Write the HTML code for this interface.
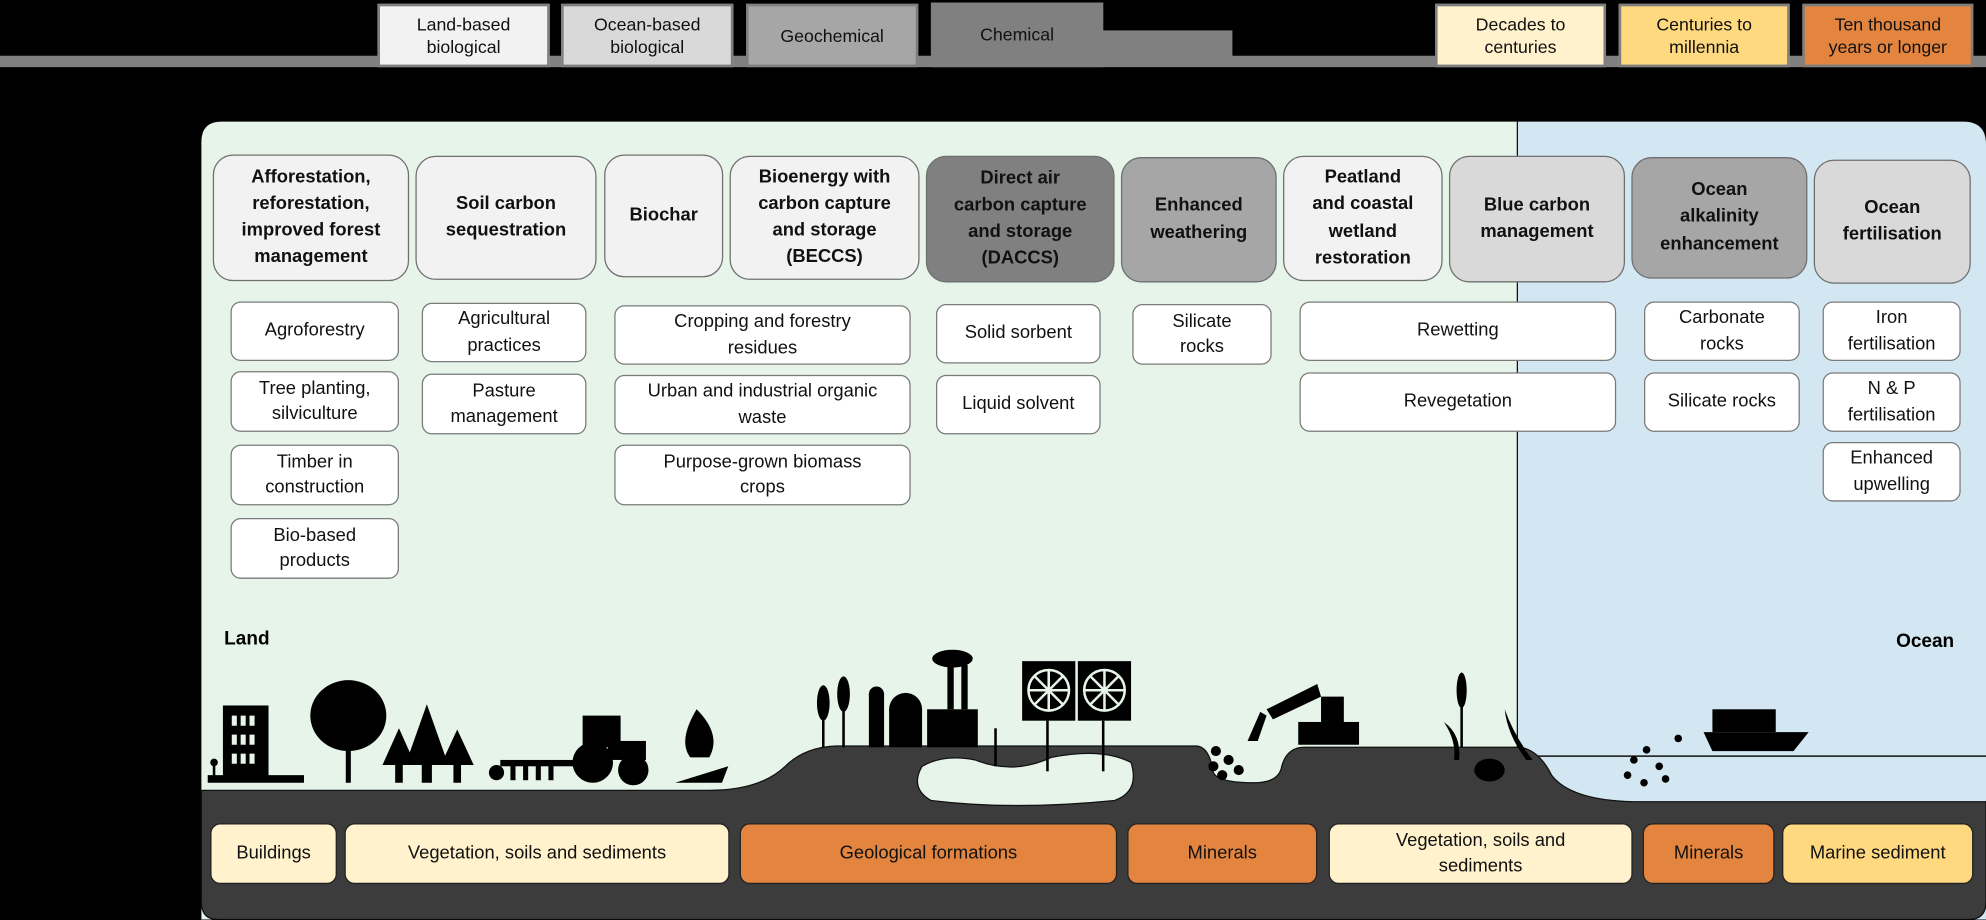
<!DOCTYPE html>
<html><head><meta charset="utf-8"><style>
html,body{margin:0;padding:0;background:#000;width:1986px;height:919px;overflow:hidden}
#w{position:absolute;left:0;top:0;width:1568px;height:726px;transform:scale(1.26658);transform-origin:0 0;font-family:"Liberation Sans",sans-serif;}
.a{position:absolute;box-sizing:border-box;display:flex;align-items:center;justify-content:center;text-align:center;color:#111;line-height:1.3}
.lg{font-size:14px;border:2px solid #7f7f7f}
.m{font-size:14.5px;font-weight:bold;border:1.5px solid #6f6f6f;border-radius:16px;line-height:1.45}
.s{font-size:14.5px;background:#fff;border:1.5px solid #7a7a7a;border-radius:8px;line-height:1.4}
.b{font-size:14.5px;border:1.5px solid #222;border-radius:8px;line-height:1.4}
</style></head><body><div id="w">
<div style="position:absolute;left:0;top:44px;width:1568px;height:9px;background:#808080"></div>
<div style="position:absolute;left:860px;top:24px;width:113px;height:22px;background:#808080"></div>
<div class="a lg" style="left:298px;top:3px;width:136px;height:50px;background:#f2f2f2">Land-based<br>biological</div>
<div class="a lg" style="left:443px;top:3px;width:136px;height:50px;background:#d9d9d9">Ocean-based<br>biological</div>
<div class="a lg" style="left:589px;top:3px;width:136px;height:50px;background:#a6a6a6">Geochemical</div>
<div class="a lg" style="left:735px;top:2px;width:136px;height:51px;background:#808080;border-color:#808080">Chemical</div>
<div class="a lg" style="left:1133px;top:3px;width:135px;height:50px;background:#fff2cc">Decades to<br>centuries</div>
<div class="a lg" style="left:1278px;top:3px;width:135px;height:50px;background:#ffd97f">Centuries to<br>millennia</div>
<div class="a lg" style="left:1423px;top:3px;width:135px;height:50px;background:#e3853f">Ten thousand<br>years or longer</div>

<svg style="position:absolute;left:0;top:0" width="1568" height="726">
<path d="M159,112 Q159,96 175,96 L1198,96 L1198,726 L159,726Z" fill="#e6f4e9"/>
<path d="M1198,96 L1550,96 Q1568,96 1568,114 L1568,726 L1198,726Z" fill="#d2e7f1"/>
<line x1="1198" y1="96" x2="1198" y2="600" stroke="#111" stroke-width="1"/>
<line x1="1205" y1="597" x2="1568" y2="597" stroke="#111" stroke-width="1.2"/>
<path d="M159,624 L560,624 Q600,624 620,605 Q635,590 660,589 L945,589 Q955,590 958,610 Q962,618 990,618 Q1010,618 1012,605 Q1016,590 1030,590 L1200,590 Q1215,592 1225,612 Q1240,632 1290,633 L1568,633 L1568,712 Q1568,726 1554,726 L172,726 Q159,726 159,712Z" fill="#3c3c3c" stroke="#111" stroke-width="1"/>
<path d="M728,605 Q745,595 770,600 Q800,612 830,598 Q870,590 893,602 Q900,625 880,632 Q800,640 735,632 Q718,622 728,605Z" fill="#e6f4e9" stroke="#111"/>
<g fill="#000">
<rect x="164" y="612" width="76" height="6"/>
<rect x="176" y="557" width="36" height="57"/>
<g fill="#e6f4e9"><rect x="183" y="565" width="4" height="8"/><rect x="190" y="565" width="4" height="8"/><rect x="197" y="565" width="4" height="8"/><rect x="183" y="580" width="4" height="8"/><rect x="190" y="580" width="4" height="8"/><rect x="197" y="580" width="4" height="8"/><rect x="183" y="595" width="4" height="8"/><rect x="190" y="595" width="4" height="8"/><rect x="197" y="595" width="4" height="8"/></g>
<rect x="168" y="603" width="2" height="10"/><circle cx="169" cy="602" r="3"/>
<rect x="273" y="580" width="4" height="38"/><ellipse cx="275" cy="565" rx="30" ry="28"/>
<polygon points="312,618 318,618 318,604 328,604 315,575 302,604 312,604"/>
<polygon points="333,618 341,618 341,604 354,604 337,556 320,604 333,604"/>
<polygon points="358,618 364,618 364,604 374,604 361,576 348,604 358,604"/>
<rect x="395" y="600" width="60" height="5"/><circle cx="392" cy="610" r="6"/>
<rect x="403" y="602" width="4" height="14"/><rect x="413" y="602" width="4" height="14"/><rect x="423" y="602" width="4" height="14"/><rect x="433" y="602" width="4" height="14"/>
<rect x="460" y="565" width="30" height="25"/><rect x="480" y="585" width="30" height="15"/><circle cx="468" cy="602" r="16"/><circle cx="500" cy="608" r="12"/>
<path d="M550,560 Q535,585 545,598 L560,598 Q570,580 550,560Z"/><polygon points="533,618 575,605 570,618"/>
<rect x="649" y="545" width="2" height="45"/><ellipse cx="650" cy="555" rx="5" ry="14"/><rect x="665" y="540" width="2" height="50"/><ellipse cx="666" cy="548" rx="5" ry="14"/>
<rect x="686" y="548" width="12" height="42"/><circle cx="692" cy="548" r="6"/><rect x="702" y="560" width="26" height="30"/><circle cx="715" cy="560" r="13"/>
<rect x="732" y="560" width="40" height="30"/><rect x="748" y="525" width="5" height="35"/><rect x="759" y="525" width="5" height="35"/><ellipse cx="752" cy="520" rx="16" ry="7"/>
<rect x="807" y="522" width="42" height="47"/><rect x="851" y="522" width="42" height="47"/>
<rect x="826" y="569" width="2" height="40"/><rect x="870" y="569" width="2" height="40"/><rect x="785" y="575" width="2" height="30"/>
<rect x="1025" y="570" width="48" height="18"/><rect x="1043" y="550" width="18" height="22"/><path d="M1000,560 L1040,540 L1043,550 L1005,568 Z"/><polygon points="985,585 995,562 1000,565 993,585"/>
<circle cx="960" cy="593" r="4"/><circle cx="970" cy="600" r="4"/><circle cx="958" cy="605" r="4"/><circle cx="978" cy="608" r="4"/><circle cx="965" cy="612" r="4"/>
<rect x="1153" y="545" width="2" height="45"/><ellipse cx="1154" cy="545" rx="4" ry="14"/><path d="M1140,570 Q1150,585 1148,600 L1152,600 Q1154,580 1140,570Z"/><path d="M1188,560 Q1195,580 1210,600 L1205,600 Q1190,580 1188,560Z"/>
<ellipse cx="1176" cy="608" rx="12" ry="9"/>
<path d="M1345,578 L1428,578 L1416,593 L1352,593Z"/><rect x="1352" y="560" width="50" height="18"/>
<circle cx="1290" cy="600" r="3"/><circle cx="1300" cy="592" r="3"/><circle cx="1285" cy="612" r="3"/><circle cx="1310" cy="605" r="3"/><circle cx="1325" cy="583" r="3"/><circle cx="1298" cy="618" r="3"/><circle cx="1315" cy="615" r="3"/>
</g>
<g stroke="#e6f4e9" stroke-width="2" fill="none"><circle cx="828" cy="545" r="16"/><circle cx="872" cy="545" r="16"/><path d="M812,545H844M828,529V561M817,534L839,556M839,534L817,556M856,545H888M872,529V561M861,534L883,556M883,534L861,556"/></g>
</svg>
<div style="position:absolute;left:177px;top:496px;font-weight:bold;font-size:15px">Land</div>
<div style="position:absolute;left:1497px;top:498px;font-weight:bold;font-size:15px">Ocean</div>

<div class="a m" style="left:168px;top:122px;width:155px;height:100px;background:#f2f2f2">Afforestation,<br>reforestation,<br>improved forest<br>management</div>
<div class="a m" style="left:328px;top:123px;width:143px;height:98px;background:#f2f2f2">Soil carbon<br>sequestration</div>
<div class="a m" style="left:477px;top:122px;width:94px;height:97px;background:#f2f2f2">Biochar</div>
<div class="a m" style="left:576px;top:123px;width:150px;height:98px;background:#f2f2f2">Bioenergy with<br>carbon capture<br>and storage<br>(BECCS)</div>
<div class="a m" style="left:731px;top:123px;width:149px;height:100px;background:#808080">Direct air<br>carbon capture<br>and storage<br>(DACCS)</div>
<div class="a m" style="left:885px;top:124px;width:123px;height:99px;background:#a6a6a6">Enhanced<br>weathering</div>
<div class="a m" style="left:1013px;top:123px;width:126px;height:99px;background:#f2f2f2">Peatland<br>and coastal<br>wetland<br>restoration</div>
<div class="a m" style="left:1144px;top:123px;width:139px;height:100px;background:#d9d9d9">Blue carbon<br>management</div>
<div class="a m" style="left:1288px;top:124px;width:139px;height:96px;background:#a6a6a6">Ocean<br>alkalinity<br>enhancement</div>
<div class="a m" style="left:1432px;top:126px;width:124px;height:98px;background:#d9d9d9">Ocean<br>fertilisation</div>

<div class="a s" style="left:182px;top:238px;width:133px;height:47px">Agroforestry</div>
<div class="a s" style="left:182px;top:293px;width:133px;height:48px">Tree planting,<br>silviculture</div>
<div class="a s" style="left:182px;top:351px;width:133px;height:48px">Timber in<br>construction</div>
<div class="a s" style="left:182px;top:409px;width:133px;height:48px">Bio-based<br>products</div>
<div class="a s" style="left:333px;top:239px;width:130px;height:47px">Agricultural<br>practices</div>
<div class="a s" style="left:333px;top:295px;width:130px;height:48px">Pasture<br>management</div>
<div class="a s" style="left:485px;top:241px;width:234px;height:47px">Cropping and forestry<br>residues</div>
<div class="a s" style="left:485px;top:296px;width:234px;height:47px">Urban and industrial organic<br>waste</div>
<div class="a s" style="left:485px;top:351px;width:234px;height:48px">Purpose-grown biomass<br>crops</div>
<div class="a s" style="left:739px;top:240px;width:130px;height:47px">Solid sorbent</div>
<div class="a s" style="left:739px;top:296px;width:130px;height:47px">Liquid solvent</div>
<div class="a s" style="left:894px;top:240px;width:110px;height:48px">Silicate<br>rocks</div>
<div class="a s" style="left:1026px;top:238px;width:250px;height:47px">Rewetting</div>
<div class="a s" style="left:1026px;top:294px;width:250px;height:47px">Revegetation</div>
<div class="a s" style="left:1298px;top:238px;width:123px;height:47px">Carbonate<br>rocks</div>
<div class="a s" style="left:1298px;top:294px;width:123px;height:47px">Silicate rocks</div>
<div class="a s" style="left:1439px;top:238px;width:109px;height:47px">Iron<br>fertilisation</div>
<div class="a s" style="left:1439px;top:294px;width:109px;height:47px">N &amp; P<br>fertilisation</div>
<div class="a s" style="left:1439px;top:349px;width:109px;height:47px">Enhanced<br>upwelling</div>

<div class="a b" style="left:166px;top:650px;width:100px;height:48px;background:#fff2cc">Buildings</div>
<div class="a b" style="left:272px;top:650px;width:304px;height:48px;background:#fff2cc">Vegetation, soils and sediments</div>
<div class="a b" style="left:584px;top:650px;width:298px;height:48px;background:#e3853f">Geological formations</div>
<div class="a b" style="left:890px;top:650px;width:150px;height:48px;background:#e3853f">Minerals</div>
<div class="a b" style="left:1049px;top:650px;width:240px;height:48px;background:#fff2cc">Vegetation, soils and<br>sediments</div>
<div class="a b" style="left:1297px;top:650px;width:104px;height:48px;background:#e3853f">Minerals</div>
<div class="a b" style="left:1407px;top:650px;width:151px;height:48px;background:#ffd97f">Marine sediment</div>
</div></body></html>
